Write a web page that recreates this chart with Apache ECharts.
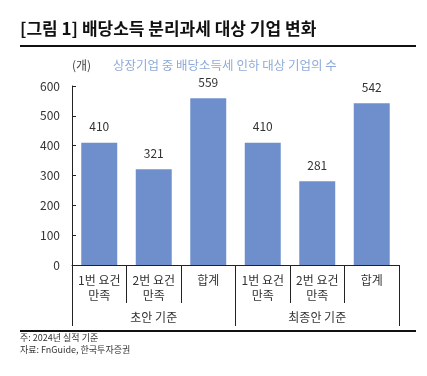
<!DOCTYPE html>
<html>
<head>
<meta charset="utf-8">
<script src="https://cdn.jsdelivr.net/npm/echarts@6/dist/echarts.min.js"></script>
<style>
  html, body { margin: 0; padding: 0; background: #fff; }
  #chart { width: 427px; height: 376px; }
</style>
</head>
<body>
<div id="chart"></div>
<script>
var categories = ['1번 요건\n만족', '2번 요건\n만족', '합계', '1번 요건\n만족', '2번 요건\n만족', '합계']
var groups = ['초안 기준', '최종안 기준']
var values = [410, 321, 559, 410, 281, 542]
var yTicks = { min: 0, max: 600, interval: 100 }

var font = '"Noto Sans CJK KR", "Noto Sans", sans-serif'
var chart = echarts.init(document.getElementById('chart'))

chart.setOption({
  animation: false,
  textStyle: { fontFamily: font },
  grid: { left: 72, right: 28, top: 86, bottom: 111 },
  graphic: [
    {
      type: 'text', left: 20, top: 20,
      style: { text: '[그림 1] 배당소득 분리과세 대상 기업 변화', font: 'bold 17px ' + font, fill: '#111' }
    },
    {
      type: 'rect', shape: { x: 20, y: 45, width: 396, height: 2 },
      style: { fill: '#111' }
    },
    {
      type: 'text', left: 72, top: 59,
      style: { text: '(개)', font: '12px ' + font, fill: '#444' }
    },
    {
      type: 'text', left: 113, top: 59,
      style: { text: '상장기업 중 배당소득세 인하 대상 기업의 수', font: '12.5px ' + font, fill: '#8eaadb' }
    },
    {
      type: 'rect', shape: { x: 20, y: 330, width: 396, height: 2 },
      style: { fill: '#111' }
    },
    {
      type: 'text', left: 20, top: 333,
      style: { text: '주: 2024년 실적 기준', font: '9px ' + font, fill: '#333' }
    },
    {
      type: 'text', left: 20, top: 345,
      style: { text: '자료: FnGuide, 한국투자증권', font: '9px ' + font, fill: '#333' }
    }
  ],
  xAxis: [
    {
      type: 'category',
      data: categories,
      position: 'bottom',
      axisLine: { show: true, lineStyle: { color: '#222', width: 1 } },
      axisTick: { show: true, length: 38, lineStyle: { color: '#222' } },
      axisLabel: { color: '#333', fontSize: 12, lineHeight: 15, margin: 8, interval: 0 }
    },
    {
      type: 'category',
      data: groups,
      position: 'bottom',
      axisLine: { show: false },
      axisTick: { show: true, length: 61, lineStyle: { color: '#222' } },
      axisLabel: { color: '#333', fontSize: 12, margin: 46, interval: 0 }
    }
  ],
  yAxis: {
    type: 'value',
    min: yTicks.min,
    max: yTicks.max,
    interval: yTicks.interval,
    splitLine: { show: false },
    axisLine: { show: true, lineStyle: { color: '#222' } },
    axisTick: { show: true, inside: true, length: 4, lineStyle: { color: '#222' } },
    axisLabel: { color: '#333', fontSize: 12, margin: 12 }
  },
  series: [
    {
      type: 'bar',
      xAxisIndex: 0,
      data: values,
      barWidth: '66%',
      itemStyle: { color: '#6e8fcb' },
      label: { show: true, position: 'top', distance: 10, color: '#333', fontSize: 12 }
    }
  ]
})
</script>
</body>
</html>
